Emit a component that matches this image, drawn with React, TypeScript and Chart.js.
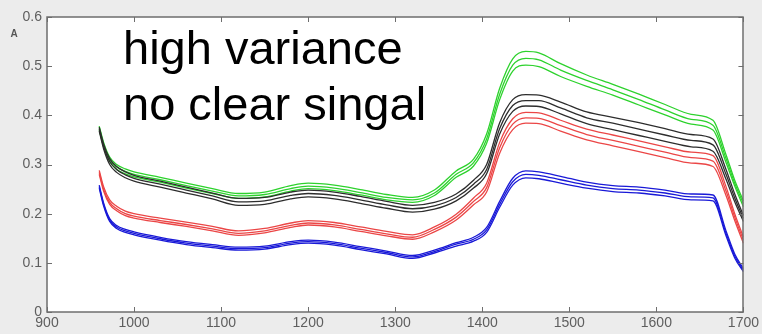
import { useEffect, useRef } from "react";
import { Chart, registerables } from "chart.js";

Chart.register(...registerables);

// Wavelength grid (nm) shared by every spectrum
const wavelengths = [960, 965, 972, 980, 990, 1000, 1030, 1060, 1090, 1120, 1150, 1180, 1200, 1230, 1260, 1290, 1320, 1345, 1370, 1390, 1405, 1420, 1435, 1450, 1465, 1490, 1520, 1550, 1580, 1610, 1640, 1665, 1680, 1690, 1700];

// Green spectra
const green1 = [0.378, 0.345, 0.315, 0.300, 0.291, 0.285, 0.274, 0.262, 0.251, 0.241, 0.244, 0.257, 0.262, 0.258, 0.249, 0.239, 0.233, 0.248, 0.287, 0.311, 0.362, 0.455, 0.515, 0.530, 0.527, 0.505, 0.482, 0.463, 0.443, 0.422, 0.402, 0.390, 0.320, 0.268, 0.226];
const green2 = [0.374, 0.340, 0.310, 0.295, 0.286, 0.280, 0.269, 0.257, 0.246, 0.236, 0.239, 0.251, 0.256, 0.252, 0.243, 0.233, 0.228, 0.242, 0.280, 0.304, 0.352, 0.443, 0.502, 0.516, 0.513, 0.492, 0.471, 0.452, 0.432, 0.411, 0.392, 0.380, 0.312, 0.262, 0.220];
const green3 = [0.370, 0.336, 0.306, 0.290, 0.281, 0.275, 0.264, 0.252, 0.241, 0.231, 0.234, 0.246, 0.251, 0.247, 0.238, 0.228, 0.223, 0.237, 0.274, 0.297, 0.343, 0.432, 0.490, 0.502, 0.499, 0.479, 0.459, 0.441, 0.421, 0.401, 0.382, 0.370, 0.304, 0.256, 0.214];

// Black spectra
const black1 = [0.376, 0.342, 0.312, 0.296, 0.285, 0.278, 0.266, 0.254, 0.242, 0.231, 0.233, 0.244, 0.248, 0.244, 0.235, 0.225, 0.217, 0.223, 0.240, 0.268, 0.300, 0.385, 0.432, 0.442, 0.441, 0.427, 0.407, 0.396, 0.385, 0.373, 0.361, 0.352, 0.290, 0.240, 0.196];
const black2 = [0.372, 0.337, 0.306, 0.290, 0.279, 0.272, 0.260, 0.248, 0.236, 0.224, 0.226, 0.237, 0.241, 0.237, 0.228, 0.218, 0.210, 0.216, 0.233, 0.260, 0.290, 0.373, 0.420, 0.430, 0.430, 0.415, 0.395, 0.384, 0.372, 0.360, 0.349, 0.340, 0.280, 0.232, 0.190];
const black3 = [0.368, 0.332, 0.300, 0.284, 0.273, 0.266, 0.254, 0.242, 0.230, 0.217, 0.219, 0.230, 0.234, 0.230, 0.221, 0.211, 0.203, 0.209, 0.226, 0.252, 0.281, 0.362, 0.408, 0.419, 0.418, 0.403, 0.383, 0.371, 0.359, 0.347, 0.336, 0.327, 0.270, 0.224, 0.184];

// Red spectra
const red1 = [0.288, 0.255, 0.228, 0.215, 0.205, 0.200, 0.191, 0.183, 0.174, 0.165, 0.170, 0.181, 0.186, 0.182, 0.173, 0.164, 0.157, 0.173, 0.199, 0.232, 0.262, 0.345, 0.393, 0.406, 0.405, 0.390, 0.372, 0.360, 0.348, 0.336, 0.325, 0.318, 0.255, 0.200, 0.152];
const red2 = [0.284, 0.250, 0.223, 0.210, 0.200, 0.195, 0.186, 0.178, 0.169, 0.160, 0.165, 0.176, 0.181, 0.177, 0.168, 0.159, 0.152, 0.168, 0.193, 0.225, 0.253, 0.334, 0.382, 0.395, 0.394, 0.379, 0.361, 0.349, 0.337, 0.325, 0.314, 0.307, 0.246, 0.193, 0.146];
const red3 = [0.280, 0.246, 0.219, 0.206, 0.196, 0.191, 0.182, 0.174, 0.165, 0.156, 0.161, 0.172, 0.177, 0.173, 0.164, 0.155, 0.148, 0.163, 0.187, 0.218, 0.244, 0.323, 0.371, 0.384, 0.383, 0.368, 0.350, 0.338, 0.326, 0.314, 0.303, 0.296, 0.237, 0.186, 0.140];

// Blue spectra
const blue1 = [0.258, 0.222, 0.190, 0.176, 0.168, 0.163, 0.152, 0.143, 0.137, 0.132, 0.134, 0.143, 0.146, 0.142, 0.133, 0.124, 0.115, 0.126, 0.141, 0.152, 0.172, 0.225, 0.272, 0.287, 0.285, 0.276, 0.264, 0.257, 0.254, 0.248, 0.240, 0.238, 0.165, 0.118, 0.088];
const blue2 = [0.255, 0.219, 0.187, 0.173, 0.165, 0.160, 0.149, 0.140, 0.134, 0.129, 0.131, 0.140, 0.143, 0.139, 0.130, 0.121, 0.112, 0.123, 0.138, 0.148, 0.167, 0.219, 0.265, 0.280, 0.278, 0.269, 0.258, 0.251, 0.248, 0.242, 0.234, 0.232, 0.160, 0.114, 0.085];
const blue3 = [0.252, 0.216, 0.184, 0.170, 0.162, 0.157, 0.146, 0.137, 0.131, 0.126, 0.128, 0.137, 0.140, 0.136, 0.127, 0.118, 0.109, 0.120, 0.134, 0.144, 0.162, 0.213, 0.258, 0.273, 0.271, 0.262, 0.252, 0.245, 0.242, 0.236, 0.228, 0.226, 0.155, 0.110, 0.082];

// Axis tick labels
const xTickLabels = ["900", "1000", "1100", "1200", "1300", "1400", "1500", "1600", "1700"];
const yTickLabels = ["0", "0.1", "0.2", "0.3", "0.4", "0.5", "0.6"];

// Annotation lines
const noteLines = ["high variance", "no clear singal"];
const yAxisTitle = "A";

const GREEN = "rgb(45,210,45)";
const BLACK = "rgb(45,45,45)";
const RED = "rgb(235,70,70)";
const BLUE = "rgb(25,25,215)";

const W = 762;
const H = 334;

const series: { data: number[]; color: string }[] = [
  { data: blue1, color: BLUE },
  { data: blue2, color: BLUE },
  { data: blue3, color: BLUE },
  { data: red1, color: RED },
  { data: red2, color: RED },
  { data: red3, color: RED },
  { data: black1, color: BLACK },
  { data: black2, color: BLACK },
  { data: black3, color: BLACK },
  { data: green1, color: GREEN },
  { data: green2, color: GREEN },
  { data: green3, color: GREEN },
];

// Grey figure background, white axes box, MATLAB-style inward ticks on all sides, annotations
const framePlugin = {
  id: "frame",
  beforeDraw(chart: any) {
    const { ctx, chartArea: a } = chart;
    ctx.save();
    ctx.fillStyle = "#ececec";
    ctx.fillRect(0, 0, chart.width, chart.height);
    ctx.fillStyle = "#ffffff";
    ctx.fillRect(a.left, a.top, a.right - a.left, a.bottom - a.top);
    ctx.restore();
  },
  afterDatasetsDraw(chart: any) {
    const { ctx, chartArea: a, scales } = chart;
    const tl = 5;
    ctx.save();
    ctx.strokeStyle = "#6e6e6e";
    ctx.lineWidth = 1;
    ctx.beginPath();
    for (const t of scales.x.ticks) {
      const px = Math.round(scales.x.getPixelForValue(t.value)) + 0.5;
      ctx.moveTo(px, a.bottom);
      ctx.lineTo(px, a.bottom - tl);
      ctx.moveTo(px, a.top);
      ctx.lineTo(px, a.top + tl);
    }
    for (const t of scales.y.ticks) {
      const py = Math.round(scales.y.getPixelForValue(t.value)) + 0.5;
      ctx.moveTo(a.left, py);
      ctx.lineTo(a.left + tl, py);
      ctx.moveTo(a.right, py);
      ctx.lineTo(a.right - tl, py);
    }
    ctx.stroke();
    ctx.lineWidth = 1.5;
    ctx.strokeRect(Math.round(a.left), Math.round(a.top), Math.round(a.right - a.left), Math.round(a.bottom - a.top));

    ctx.fillStyle = "#555555";
    ctx.font = 'bold 10px "Liberation Sans", Arial, sans-serif';
    ctx.textAlign = "center";
    ctx.textBaseline = "middle";
    ctx.fillText(yAxisTitle, 14, 34);

    ctx.fillStyle = "#000000";
    ctx.font = '47px "Liberation Sans", Arial, sans-serif';
    ctx.textAlign = "left";
    ctx.textBaseline = "alphabetic";
    ctx.fillText(noteLines[0], 123, 64);
    ctx.fillText(noteLines[1], 123, 120);
    ctx.restore();
  },
};

export default function App() {
  const canvasRef = useRef<HTMLCanvasElement | null>(null);

  useEffect(() => {
    const canvas = canvasRef.current;
    if (!canvas) return;
    const tickFont = { family: '"Liberation Sans", Arial, sans-serif', size: 14 };
    const chart = new Chart(canvas, {
      type: "line",
      data: {
        datasets: series.map((s) => ({
          data: wavelengths.map((x, i) => ({ x, y: s.data[i] })),
          borderColor: s.color,
          borderWidth: 1.3,
          pointRadius: 0,
          fill: false,
          cubicInterpolationMode: "monotone" as const,
        })),
      },
      options: {
        responsive: false,
        maintainAspectRatio: false,
        animation: false,
        layout: { padding: { top: 17, right: 15, left: 0, bottom: 0 } },
        plugins: { legend: { display: false }, tooltip: { enabled: false } },
        scales: {
          x: {
            type: "linear",
            min: 900,
            max: 1700,
            ticks: {
              stepSize: 100,
              color: "#5e5e5e",
              font: tickFont,
              padding: 3,
              maxRotation: 0,
              callback: (_v: any, i: number) => xTickLabels[i],
            },
            grid: { display: false, drawTicks: false },
            border: { display: false },
            afterFit: (s: any) => {
              s.height = 22;
            },
          },
          y: {
            type: "linear",
            min: 0,
            max: 0.6,
            ticks: {
              stepSize: 0.1,
              color: "#5e5e5e",
              font: tickFont,
              padding: 5,
              callback: (_v: any, i: number) => yTickLabels[i],
            },
            grid: { display: false, drawTicks: false },
            border: { display: false },
            afterFit: (s: any) => {
              s.width = 47;
            },
          },
        },
      },
      plugins: [framePlugin],
    });
    return () => chart.destroy();
  }, []);

  return (
    <div style={{ position: "fixed", left: 0, top: 0, width: W, height: H, background: "#ececec" }}>
      <canvas ref={canvasRef} width={W} height={H} style={{ display: "block", width: W, height: H }} />
    </div>
  );
}
